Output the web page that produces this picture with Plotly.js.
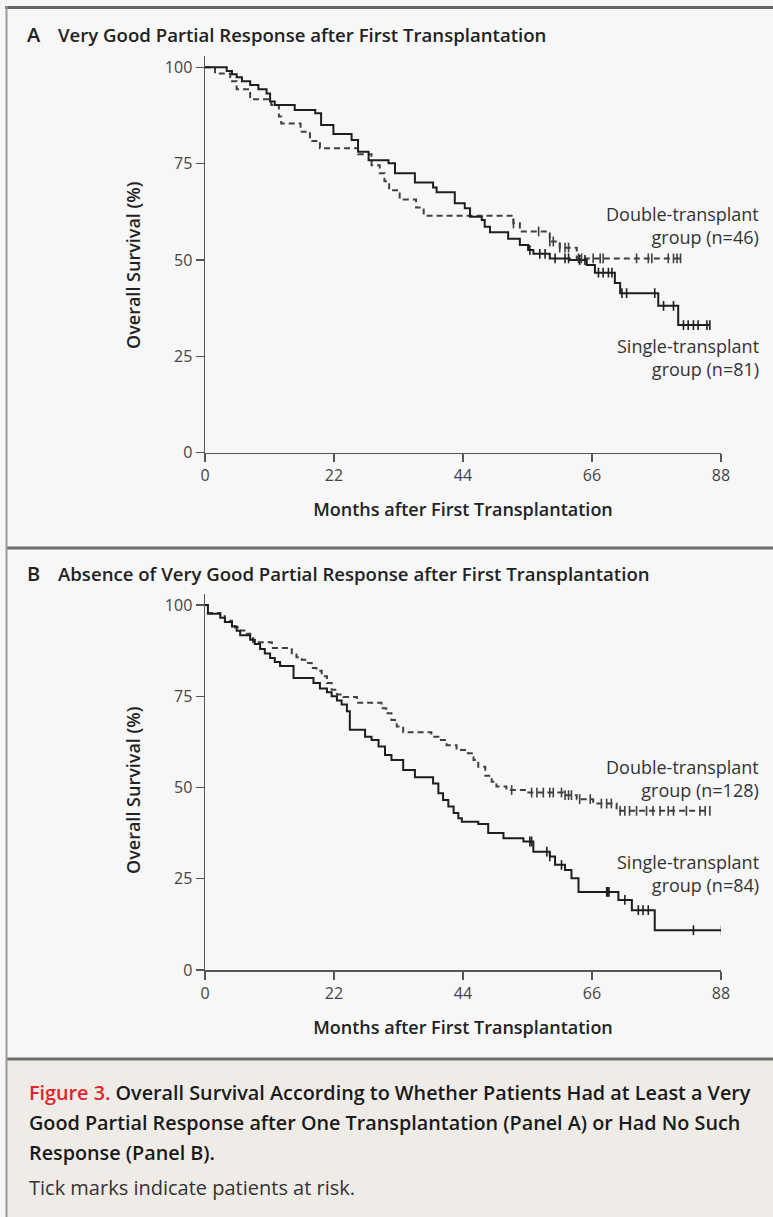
<!DOCTYPE html>
<html><head><meta charset="utf-8">
<script src="https://cdn.plot.ly/plotly-3.0.1.min.js"></script>
<style>html,body{margin:0;padding:0;background:#f7f7f7;}</style>
</head><body>
<div id="chart" style="width:773px;height:1217px"></div>
<script>
// ---------- data ----------
const monthTicks = [0, 22, 44, 66, 88];
const survivalTicks = [0, 25, 50, 75, 100];

// Panel A: VGPR after first transplantation
const A_single_t = [0, 3.7, 4.6, 5.4, 6.3, 7.7, 9.1, 10.5, 11.1, 11.9, 15.3, 18.8, 19.8, 21.9, 25.0, 26.1, 27.9, 31.3, 32.4, 35.8, 38.9, 39.5, 42.6, 44.3, 45.2, 47.2, 47.7, 48.6, 51.7, 53.7, 55.1, 56.0, 58.8, 62.2, 65.1, 66.5, 69.9, 70.8, 77.3, 80.7, 86.1];
const A_single_s = [100, 99.0, 98.2, 97.4, 96.4, 95.4, 94.3, 93.2, 91.1, 90.2, 88.9, 88.1, 85.0, 82.7, 81.1, 78.1, 75.9, 75.1, 72.5, 70.1, 68.8, 67.6, 64.7, 63.4, 61.2, 60.4, 58.6, 57.2, 55.5, 53.9, 52.6, 51.6, 50.4, 50.0, 48.7, 46.7, 44.0, 41.4, 38.1, 33.1, 33.1];
const A_single_censor = [55.4, 57.1, 58.0, 59.7, 61.4, 62.0, 63.9, 64.8, 67.1, 67.9, 68.8, 69.4, 71.1, 71.9, 76.7, 78.2, 79.9, 81.6, 82.4, 83.3, 84.1, 85.6, 86.1];

const A_double_t = [0, 1.7, 4.3, 5.4, 7.7, 11.3, 12.6, 13.0, 16.3, 17.9, 19.6, 26.1, 28.4, 29.8, 30.6, 31.4, 33.2, 36.0, 37.3, 52.6, 53.7, 58.8, 60.5, 63.4, 81.3];
const A_double_s = [100, 98.4, 96.4, 94.3, 91.7, 90.2, 87.2, 85.4, 83.3, 80.9, 79.0, 77.4, 74.6, 72.5, 70.4, 68.1, 65.7, 63.6, 61.5, 59.5, 57.4, 54.8, 53.2, 50.4, 50.4];
const A_double_censor = [52.6, 56.9, 58.8, 59.4, 60.5, 61.4, 62.0, 63.7, 64.2, 66.2, 67.4, 67.9, 73.6, 75.6, 76.2, 79.0, 79.9, 80.5, 81.1];

// Panel B: absence of VGPR after first transplantation
const B_single_t = [0, 0.5, 2.6, 3.4, 4.6, 5.4, 6.0, 7.7, 8.5, 9.4, 10.2, 11.1, 11.9, 12.8, 15.1, 18.5, 19.6, 20.8, 21.6, 22.5, 23.3, 24.2, 24.7, 27.3, 28.4, 29.6, 30.7, 31.8, 33.8, 35.8, 38.9, 39.8, 40.6, 41.5, 42.4, 43.2, 43.8, 46.6, 48.3, 50.9, 54.3, 56.0, 58.8, 59.7, 61.4, 62.5, 63.7, 70.5, 72.8, 76.7, 88.1];
const B_single_s = [100, 97.6, 96.5, 95.3, 94.1, 92.9, 91.7, 90.5, 89.3, 87.9, 86.7, 85.5, 84.4, 83.3, 80.0, 78.6, 77.1, 76.1, 75.0, 73.8, 72.7, 70.9, 65.8, 63.9, 63.0, 61.2, 58.9, 57.5, 54.8, 52.8, 51.1, 48.4, 46.6, 44.8, 43.0, 41.6, 40.6, 40.0, 37.5, 36.1, 35.2, 32.4, 31.1, 28.8, 27.4, 25.1, 21.4, 19.2, 16.4, 10.9, 10.9];
const B_single_censor = [55.4, 55.7, 58.3, 58.8, 60.8, 68.5, 68.7, 68.9, 71.6, 73.9, 74.7, 75.6, 83.3, 88.1];

const B_double_t = [0, 0.5, 2.6, 3.4, 4.6, 5.1, 6.0, 7.1, 7.7, 8.2, 11.4, 14.8, 15.6, 16.5, 17.3, 18.2, 19.0, 19.9, 20.8, 21.6, 22.5, 23.6, 25.9, 30.1, 30.9, 31.8, 32.7, 33.8, 38.6, 39.8, 41.2, 42.9, 44.6, 45.8, 46.6, 47.8, 48.9, 49.7, 51.4, 54.8, 61.1, 63.4, 66.2, 70.2, 86.1];
const B_double_s = [100, 97.8, 96.9, 95.7, 94.6, 93.9, 93.0, 92.1, 90.9, 89.8, 88.2, 86.8, 85.7, 85.0, 84.1, 82.7, 82.0, 80.5, 78.6, 76.8, 75.5, 74.8, 73.2, 71.7, 70.3, 68.5, 66.7, 65.1, 63.9, 63.0, 61.6, 60.3, 59.4, 57.5, 55.7, 53.2, 51.6, 50.3, 49.3, 48.6, 47.9, 46.8, 45.6, 43.6, 43.6];
const B_double_censor = [52.3, 55.7, 56.6, 57.7, 58.8, 59.4, 60.8, 61.4, 62.0, 62.5, 63.9, 65.7, 67.6, 68.5, 69.3, 70.8, 71.6, 72.4, 73.6, 75.3, 76.4, 77.6, 79.0, 79.9, 82.1, 84.4, 85.3, 86.1];

// ---------- text ----------
const panelA_letter = 'A', panelA_title = 'Very Good Partial Response after First Transplantation';
const panelB_letter = 'B', panelB_title = 'Absence of Very Good Partial Response after First Transplantation';
const xTitle = 'Months after First Transplantation';
const yTitle = 'Overall Survival (%)';
const A_double_label = 'Double-transplant<br>group (n=46)';
const A_single_label = 'Single-transplant<br>group (n=81)';
const B_double_label = 'Double-transplant<br>group (n=128)';
const B_single_label = 'Single-transplant<br>group (n=84)';
const captionLines = [
  '<span style="color:#e2232a">Figure 3.</span> Overall Survival According to Whether Patients Had at Least a Very',
  'Good Partial Response after One Transplantation (Panel A) or Had No Such',
  'Response (Panel B).'
];
const captionNote = 'Tick marks indicate patients at risk.';

// ---------- helpers ----------
const W = 773, H = 1217;
const fx = p => p / W;
const fy = p => 1 - p / H;
const FONT = '"Open Sans", Lato, sans-serif';
const INK = '#1e1e1e';
const DASHINK = '#404040';

function survAt(t, ts, ss) {
  let v = ss[0];
  for (let i = 0; i < ts.length; i++) if (ts[i] <= t) v = ss[i];
  return v;
}
function curve(ts, ss, xa, ya, dashed) {
  return {x: ts, y: ss, xaxis: xa, yaxis: ya, type: 'scatter', mode: 'lines',
    line: {shape: 'hv', color: dashed ? DASHINK : INK, width: 2, dash: dashed ? '6px,4px' : 'solid'},
    hoverinfo: 'skip', showlegend: false};
}
function censor(cs, ts, ss, xa, ya, dashed) {
  return {x: cs, y: cs.map(c => survAt(c, ts, ss)), xaxis: xa, yaxis: ya, type: 'scatter', mode: 'markers',
    marker: {symbol: 'line-ns', size: 7, line: {width: 1.6, color: dashed ? DASHINK : INK}},
    hoverinfo: 'skip', showlegend: false};
}

const data = [
  curve(A_double_t, A_double_s, 'x', 'y', true),
  curve(A_single_t, A_single_s, 'x', 'y', false),
  censor(A_double_censor, A_double_t, A_double_s, 'x', 'y', true),
  censor(A_single_censor, A_single_t, A_single_s, 'x', 'y', false),
  curve(B_double_t, B_double_s, 'x2', 'y2', true),
  curve(B_single_t, B_single_s, 'x2', 'y2', false),
  censor(B_double_censor, B_double_t, B_double_s, 'x2', 'y2', true),
  censor(B_single_censor, B_single_t, B_single_s, 'x2', 'y2', false)
];

function xAxis(anchor) {
  return {domain: [fx(205), fx(721)], range: [0, 88], anchor: anchor, tickvals: monthTicks,
    ticks: 'outside', ticklen: 8, tickwidth: 1.4, tickcolor: '#555', showline: true, linecolor: '#555', linewidth: 1.5,
    showgrid: false, zeroline: false, fixedrange: true, tickfont: {family: FONT, size: 16, color: '#444'},
    title: {text: xTitle, standoff: 18, font: {family: FONT, size: 18, color: '#222', weight: 600}}};
}
function yAxis(anchor, top, bottom) {
  return {domain: [fy(bottom), fy(top)], range: [0, 103], anchor: anchor, tickvals: survivalTicks,
    ticks: 'outside', ticklen: 8, tickwidth: 1.4, tickcolor: '#555', showline: true, linecolor: '#555', linewidth: 1.5,
    showgrid: false, zeroline: false, fixedrange: true, tickfont: {family: FONT, size: 16, color: '#444'}};
}

const ann = [];
function txt(text, x, y, font, opts) {
  ann.push(Object.assign({text: text, x: fx(x), y: fy(y), xref: 'paper', yref: 'paper', showarrow: false,
    xanchor: 'left', yanchor: 'middle', align: 'left', font: font}, opts || {}));
}
const letterFont = {family: FONT, size: 20, color: '#222', weight: 600};
const titleFont = {family: FONT, size: 18.6, color: '#222', weight: 600};
txt(panelA_letter, 25, 35, letterFont);
txt(panelA_title, 56, 35, titleFont);
txt(panelB_letter, 25, 573, letterFont);
txt(panelB_title, 56, 573, titleFont);
// y-axis titles
const yTitleFont = {family: FONT, size: 18, color: '#222', weight: 600};
txt(yTitle, 133, 265, yTitleFont, {textangle: -90, xanchor: 'center'});
txt(yTitle, 133, 790, yTitleFont, {textangle: -90, xanchor: 'center'});
const lblFont = {family: FONT, size: 18, color: '#333'};
const lbl = {xanchor: 'right', align: 'right'};
txt(A_double_label, 761, 226, lblFont, lbl);
txt(A_single_label, 761, 357, lblFont, lbl);
txt(B_double_label, 761, 778, lblFont, lbl);
txt(B_single_label, 761, 874, lblFont, lbl);
const capFont = {family: FONT, size: 19.8, color: '#1a1a1a', weight: 600};
txt(captionLines[0], 27, 1092, capFont);
txt(captionLines[1], 27, 1122, capFont);
txt(captionLines[2], 27, 1152, capFont);
txt(captionNote, 27, 1187, {family: FONT, size: 20, color: '#333'});

const shapes = [
  {type: 'rect', xref: 'paper', yref: 'paper', x0: fx(7), x1: fx(773), y0: fy(1060), y1: fy(1217), fillcolor: '#efebe6', line: {width: 0}, layer: 'below'},
  {type: 'line', xref: 'paper', yref: 'paper', x0: fx(5), x1: fx(773), y0: fy(7.5), y1: fy(7.5), line: {color: '#666', width: 3}},
  {type: 'line', xref: 'paper', yref: 'paper', x0: fx(7), x1: fx(773), y0: fy(548), y1: fy(548), line: {color: '#6f6f6f', width: 3}},
  {type: 'line', xref: 'paper', yref: 'paper', x0: fx(7), x1: fx(773), y0: fy(1059), y1: fy(1059), line: {color: '#6f6f6f', width: 3}},
  {type: 'line', xref: 'paper', yref: 'paper', x0: fx(6.5), x1: fx(6.5), y0: fy(6), y1: fy(1217), line: {color: '#9a9a9a', width: 2}}
];

const layout = {
  width: W, height: H, margin: {l: 0, r: 0, t: 0, b: 0},
  paper_bgcolor: '#f7f7f7', plot_bgcolor: 'rgba(0,0,0,0)',
  showlegend: false,
  xaxis: xAxis('y'), yaxis: yAxis('x', 55.7, 452.7),
  xaxis2: xAxis('y2'), yaxis2: yAxis('x2', 594, 970),
  annotations: ann, shapes: shapes
};
Plotly.newPlot('chart', data, layout, {staticPlot: true, displayModeBar: false});
</script>
</body></html>
